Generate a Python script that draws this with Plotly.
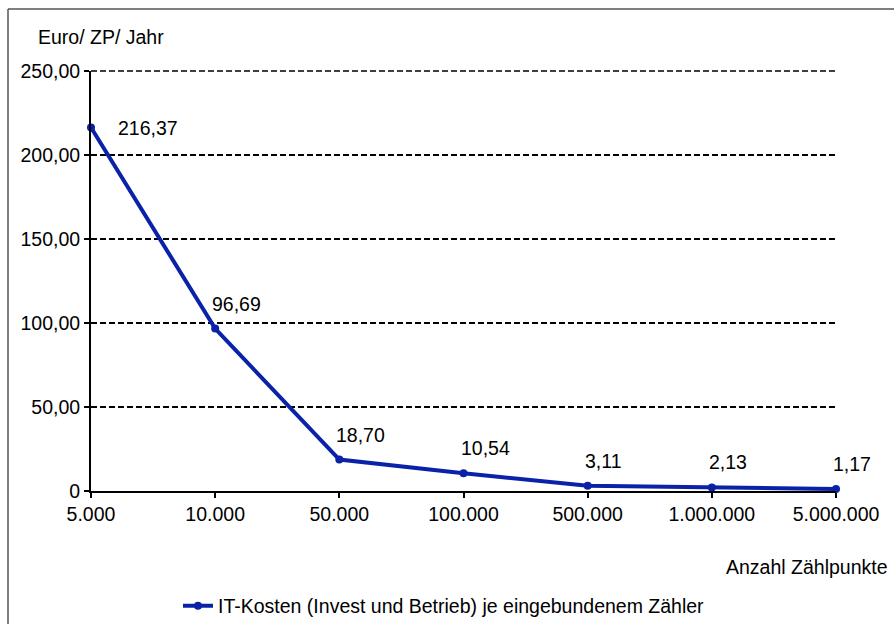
import plotly.graph_objects as go

# Kosten je Zählpunkt nach Anzahl eingebundener Zählpunkte
categories = ["5.000", "10.000", "50.000", "100.000", "500.000", "1.000.000", "5.000.000"]
costs = [216.37, 96.69, 18.70, 10.54, 3.11, 2.13, 1.17]
y_ticks = [0, 50, 100, 150, 200, 250]
y_tick_text = ["0", "50,00", "100,00", "150,00", "200,00", "250,00"]
series_name = "IT-Kosten (Invest und Betrieb) je eingebundenem Zähler"

FONT = "Liberation Sans, Arial, Helvetica, sans-serif"
FS = 19.5
BLUE = "#0a22a8"

W, H = 894, 624
ML, MR, MT, MB = 91, 58, 71, 133
pw, ph = W - ML - MR, H - MT - MB

xs = list(range(len(categories)))


def de(v):
    return f"{v:.2f}".replace(".", ",")


def px_x(p):
    return (p - ML) / pw


def px_y(p):
    return (H - MB - p) / ph


fig = go.Figure()
fig.add_trace(go.Scatter(
    x=xs, y=costs, mode="lines+markers", name=series_name,
    line=dict(color=BLUE, width=4),
    marker=dict(color=BLUE, size=8, symbol="circle"),
    cliponaxis=False,
))

# Werte-Beschriftungen an den Punkten
for i, (x, v) in enumerate(zip(xs, costs)):
    if i == 0:
        fig.add_annotation(x=x, y=v, text=de(v), showarrow=False,
                           xanchor="left", yanchor="middle", xshift=25,
                           font=dict(family=FONT, size=FS, color="black"))
    else:
        fig.add_annotation(x=x, y=v, text=de(v), showarrow=False,
                           xanchor="left", yanchor="middle", xshift=-5, yshift=25,
                           font=dict(family=FONT, size=FS, color="black"))

# Achsentitel
fig.add_annotation(xref="paper", yref="paper", x=px_x(36), y=px_y(37),
                   text="Euro/ ZP/ Jahr", showarrow=False,
                   xanchor="left", yanchor="middle",
                   font=dict(family=FONT, size=FS, color="black"))
fig.add_annotation(xref="paper", yref="paper", x=px_x(890), y=px_y(567),
                   text="Anzahl Zählpunkte", showarrow=False,
                   xanchor="right", yanchor="middle",
                   font=dict(family=FONT, size=FS, color="black"))

# oberste Rasterlinie (liegt auf dem Rand des Diagrammbereichs)
fig.add_shape(type="line", xref="paper", yref="paper", x0=0, x1=1, y0=1, y1=1,
              line=dict(color="black", width=1.5, dash="6px,3px"))

# Rahmen: linke und obere Kante
fig.add_shape(type="line", xref="paper", yref="paper",
              x0=px_x(8), x1=px_x(8), y0=px_y(H + 10), y1=px_y(9),
              line=dict(color="#555555", width=1.5))
fig.add_shape(type="line", xref="paper", yref="paper",
              x0=px_x(8), x1=px_x(W + 10), y0=px_y(9), y1=px_y(9),
              line=dict(color="#555555", width=1.5))

fig.update_layout(
    width=W, height=H,
    margin=dict(l=ML, r=MR, t=MT, b=MB, autoexpand=False),
    paper_bgcolor="white", plot_bgcolor="white",
    font=dict(family=FONT, size=FS, color="black"),
    showlegend=True,
    legend=dict(orientation="h", xref="container", yref="container",
                x=178 / W, y=1 - 606 / H,
                xanchor="left", yanchor="middle",
                font=dict(family=FONT, size=FS, color="black"),
                bgcolor="rgba(0,0,0,0)"),
    xaxis=dict(
        range=[0, len(categories) - 1],
        tickmode="array", tickvals=xs, ticktext=categories,
        showgrid=False, zeroline=False,
        showline=True, linecolor="black", linewidth=2,
        ticks="outside", ticklen=5, tickwidth=2, tickcolor="black",
        tickfont=dict(family=FONT, size=FS, color="black"),
    ),
    yaxis=dict(
        range=[0, 250],
        tickmode="array", tickvals=y_ticks, ticktext=y_tick_text,
        showgrid=True, gridcolor="black", gridwidth=1.5, griddash="6px,3px",
        zeroline=False,
        showline=True, linecolor="black", linewidth=2,
        ticks="outside", ticklen=5, tickwidth=2, tickcolor="black",
        tickfont=dict(family=FONT, size=FS, color="black"),
    ),
)

fig.write_html("out.html")
